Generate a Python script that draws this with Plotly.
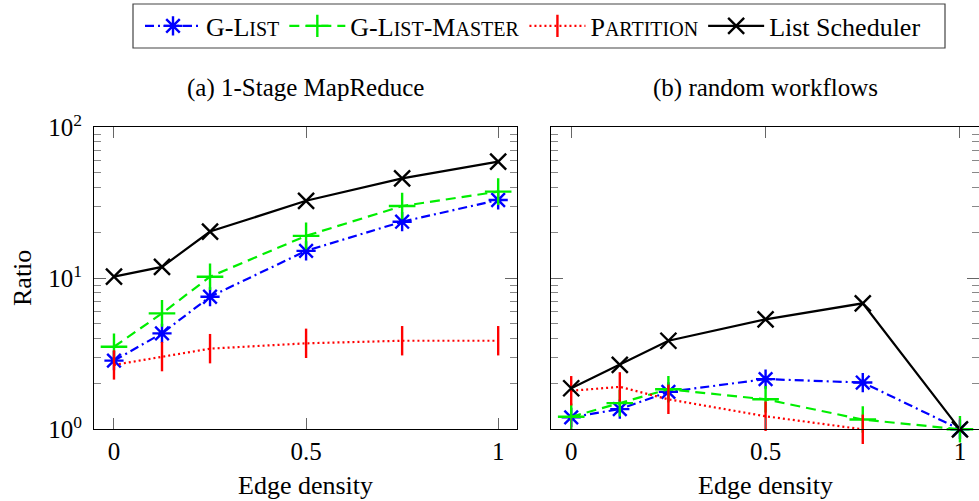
import plotly.graph_objects as go

# ---------------- data ----------------
x_vals = [0, 0.125, 0.25, 0.5, 0.75, 1]

# (a) 1-Stage MapReduce
a_glist = [2.85, 4.32, 7.55, 15.2, 23.7, 33.0]
a_glist_master = [3.52, 5.86, 10.25, 19.1, 30.1, 37.5]
a_partition = [2.67, 3.03, 3.42, 3.71, 3.86, 3.86]
a_list_sched = [10.25, 11.9, 20.4, 32.6, 45.9, 59.2]

# (b) random workflows
b_glist = [1.2, 1.36, 1.77, 2.15, 2.04, 1.0]
b_glist_master = [1.21, 1.49, 1.84, 1.58, 1.16, 1.0]
b_partition = [1.80, 1.91, 1.58, 1.22, 1.0, None]
b_list_sched = [1.87, 2.67, 3.86, 5.35, 6.83, 1.0]

x_tick_vals = [0, 0.5, 1]
x_tick_text = ["0", "0.5", "1"]
y_tick_vals = [1, 10, 100]
y_tick_text = ["10<sup>0</sup>", "10<sup>1</sup>", "10<sup>2</sup>"]
y_minor_vals = [2, 3, 4, 5, 6, 7, 8, 9, 20, 30, 40, 50, 60, 70, 80, 90]

SC = "<span style='font-size:20px'>{}</span>"
names = [
    "G-L" + SC.format("IST"),
    "G-L" + SC.format("IST") + "-M" + SC.format("ASTER"),
    "P" + SC.format("ARTITION"),
    "List Scheduler",
]

FONT = "Liberation Serif, Times New Roman, serif"
W, H = 979, 501

styles = [
    dict(color="#0000ff", dash="9px,4px,2px,4px", symbol="asterisk-open", size=16),
    dict(color="#00ee00", dash="10px,6px", symbol="cross-thin-open", size=19),
    dict(color="#ff0000", dash="2px,3px", symbol="line-ns-open", size=21),
    dict(color="#000000", dash="solid", symbol="x-thin-open", size=16),
]

series_a = [a_glist, a_glist_master, a_partition, a_list_sched]
series_b = [b_glist, b_glist_master, b_partition, b_list_sched]

fig = go.Figure()
for name, st, ya in zip(names, styles, series_a):
    fig.add_trace(go.Scatter(
        x=x_vals, y=ya, name=name, legendgroup=name, mode="lines+markers",
        xaxis="x", yaxis="y", cliponaxis=False,
        line=dict(color=st["color"], width=2.2, dash=st["dash"]),
        marker=dict(symbol=st["symbol"], size=st["size"], color=st["color"],
                    line=dict(color=st["color"], width=2.4)),
    ))
for name, st, yb in zip(names, styles, series_b):
    fig.add_trace(go.Scatter(
        x=x_vals, y=yb, name=name, legendgroup=name, mode="lines+markers",
        xaxis="x2", yaxis="y2", cliponaxis=False, showlegend=False,
        line=dict(color=st["color"], width=2.2, dash=st["dash"]),
        marker=dict(symbol=st["symbol"], size=st["size"], color=st["color"],
                    line=dict(color=st["color"], width=2.4)),
    ))

y_dom = [1 - 429.3 / H, 1 - 127.3 / H]
xl_dom = [94 / W, 517 / W]
xr_dom = [551 / W, 1.0]

tickfont = dict(family=FONT, size=25, color="black")

def xaxis(domain, anchor):
    return dict(
        domain=domain, anchor=anchor, range=[-0.052, 1.049],
        tickmode="array", tickvals=x_tick_vals, ticktext=x_tick_text,
        ticks="inside", ticklen=11, tickcolor="#666", tickwidth=1,
        showline=True, linecolor="black", linewidth=1.2, mirror="ticks",
        showgrid=False, zeroline=False, tickfont=tickfont, automargin=False,
    )

def yaxis(anchor, labels):
    return dict(
        domain=y_dom, anchor=anchor, type="log", range=[0, 2],
        tickmode="array", tickvals=y_tick_vals, ticktext=y_tick_text,
        showticklabels=labels, ticklabelstandoff=6,
        ticks="inside", ticklen=12, tickcolor="#666", tickwidth=1,
        minor=dict(tickmode="array", tickvals=y_minor_vals, ticks="inside",
                   ticklen=7, tickcolor="#888", tickwidth=1),
        showline=True, linecolor="black", linewidth=1.2, mirror="ticks",
        showgrid=False, zeroline=False, tickfont=tickfont, automargin=False,
    )

fig.update_layout(
    template="none",
    width=W, height=H,
    margin=dict(l=0, r=0, t=0, b=0),
    paper_bgcolor="white", plot_bgcolor="white",
    font=dict(family=FONT, size=25, color="black"),
    xaxis=xaxis(xl_dom, "y"),
    yaxis=yaxis("x", True),
    xaxis2=xaxis(xr_dom, "y2"),
    yaxis2=yaxis("x2", False),
    showlegend=True,
    legend=dict(
        orientation="h", x=533 / W, xanchor="center", y=1 - 26 / H, yanchor="middle",
        borderwidth=0, bgcolor="rgba(0,0,0,0)",
        font=dict(family=FONT, size=26, color="black"),
        itemwidth=56, tracegroupgap=0,
    ),
    shapes=[
        dict(type="rect", xref="paper", yref="paper",
             x0=133 / W, x1=945 / W, y0=1 - 48 / H, y1=1 - 4 / H,
             line=dict(color="#444", width=1.2), fillcolor="rgba(0,0,0,0)",
             layer="below"),
    ],
    annotations=[
        dict(text="(a) 1-Stage MapReduce", x=305.5 / W, y=1 - 88 / H,
             xref="paper", yref="paper", showarrow=False,
             xanchor="center", yanchor="middle",
             font=dict(family=FONT, size=25, color="black")),
        dict(text="(b) random workflows", x=765 / W, y=1 - 88 / H,
             xref="paper", yref="paper", showarrow=False,
             xanchor="center", yanchor="middle",
             font=dict(family=FONT, size=25, color="black")),
        dict(text="Edge density", x=305.5 / W, y=1 - 485 / H,
             xref="paper", yref="paper", showarrow=False,
             xanchor="center", yanchor="middle",
             font=dict(family=FONT, size=26, color="black")),
        dict(text="Edge density", x=765 / W, y=1 - 485 / H,
             xref="paper", yref="paper", showarrow=False,
             xanchor="center", yanchor="middle",
             font=dict(family=FONT, size=26, color="black")),
        dict(text="Ratio", x=22 / W, y=1 - 278 / H, textangle=-90,
             xref="paper", yref="paper", showarrow=False,
             xanchor="center", yanchor="middle",
             font=dict(family=FONT, size=26, color="black")),
    ],
)

fig.write_html("out.html")
